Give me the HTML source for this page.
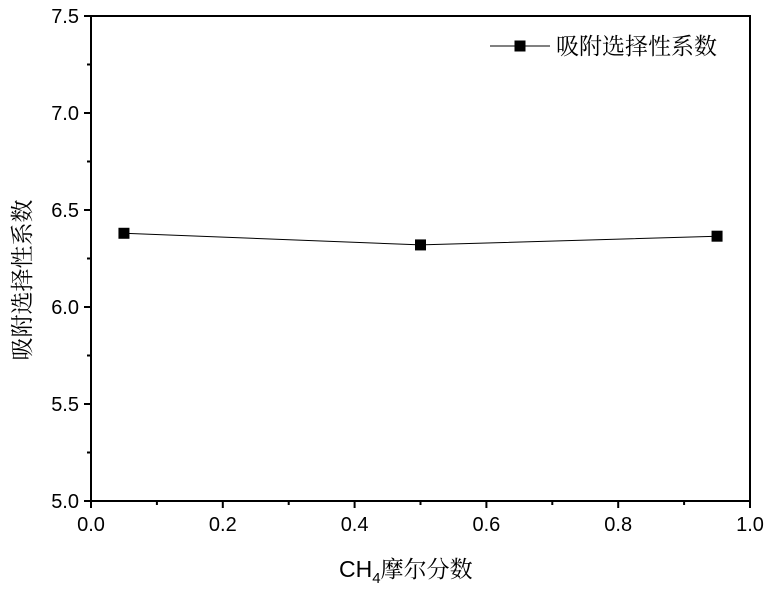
<!DOCTYPE html>
<html><head><meta charset="utf-8"><style>
body{margin:0;background:#fff}
svg{display:block;font-family:"Liberation Sans","Noto Sans CJK SC",sans-serif}
.cj{font-family:"Liberation Sans","Noto Serif CJK SC",serif}
</style></head><body>
<svg id="c" width="768" height="590"></svg>
<script>
const categories=[0.05,0.5,0.95];
const values=[6.38,6.32,6.365];
const xTicks=["0.0","0.2","0.4","0.6","0.8","1.0"];
const yTicks=["5.0","5.5","6.0","6.5","7.0","7.5"];
const L=91,R=750,T=16,B=501;
const xs=v=>L+(v-0)/(1-0)*(R-L);
const ys=v=>B-(v-5)/(7.5-5)*(B-T);
const svg=document.getElementById('c');
const NS='http://www.w3.org/2000/svg';
function mk(t,a,p){const e=document.createElementNS(NS,t);for(const k in a)e.setAttribute(k,a[k]);(p||svg).appendChild(e);return e;}
let f=mk('rect',{x:L,y:T,width:R-L,height:B-T,fill:'none',stroke:'#000','stroke-width':2});

for(let i=0;i<=10;i++){const v=i/10,x=xs(v);const maj=i%2==0;
 mk('line',{x1:x,y1:B,x2:x,y2:B+(maj?7:4),stroke:'#000','stroke-width':2});}
xTicks.forEach(t=>{const v=parseFloat(t);const e=mk('text',{x:xs(v),y:B+30,'text-anchor':'middle','font-size':20});e.textContent=t;
 });
for(let i=0;i<=10;i++){const v=5+i*0.25,y=ys(v);const maj=i%2==0;
 mk('line',{x1:L,y1:y,x2:L-(maj?7:4),y2:y,stroke:'#000','stroke-width':2});}
yTicks.forEach(t=>{const v=parseFloat(t);const e=mk('text',{x:L-12,y:ys(v)+7,'text-anchor':'end','font-size':20});e.textContent=t;
 });
const pts=categories.map((c,i)=>xs(c)+','+ys(values[i])).join(' ');
let ln=mk('polyline',{points:pts,fill:'none',stroke:'#000','stroke-width':1});

categories.forEach((c,i)=>{let r=mk('rect',{x:xs(c)-5.5,y:ys(values[i])-5.5,width:11,height:11,fill:'#000'});
 });
mk('line',{x1:490,y1:46,x2:550,y2:46,stroke:'#000','stroke-width':1});
mk('rect',{x:514.5,y:40.5,width:11,height:11,fill:'#000'});
let lt=mk('text',{x:556,y:54,'font-size':23,'class':'cj'});lt.textContent='吸附选择性系数';

let xt=mk('text',{x:339,y:577,'font-size':23,'class':'cj'});xt.innerHTML='CH<tspan font-size="15" dy="6">4</tspan><tspan dy="-6">摩尔分数</tspan>';

let yt=mk('text',{x:0,y:0,'font-size':23,'text-anchor':'middle','class':'cj',transform:'translate(30,280) rotate(-90)'});yt.textContent='吸附选择性系数';

</script>
</body></html>
